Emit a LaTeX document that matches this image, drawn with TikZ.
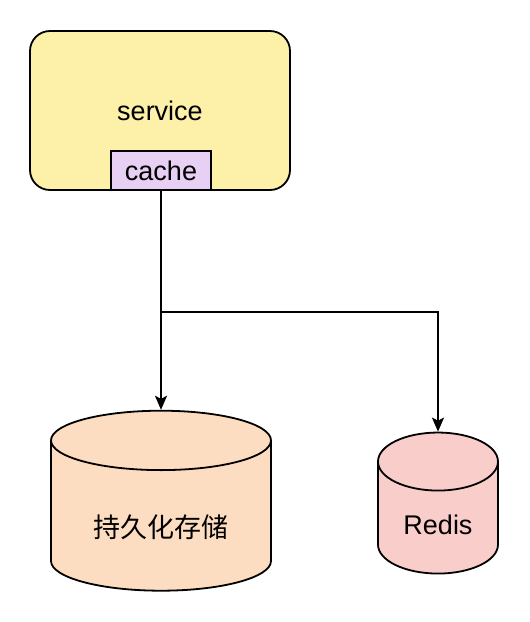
\documentclass[tikz,border=0pt]{standalone}
\usepackage{fontspec}
\setmainfont{Liberation Sans}
\newfontfamily\cjk{Noto Sans CJK SC}
\usetikzlibrary{shapes.geometric,arrows.meta}
\definecolor{serviceyellow}{HTML}{FDF0A9}
\definecolor{cachepurple}{HTML}{E8D0F4}
\definecolor{storepeach}{HTML}{FDDDC2}
\definecolor{redispink}{HTML}{F9CDCA}
\begin{document}
\begin{tikzpicture}[x=1pt, y=1pt,
  box/.style={draw=black, line width=1.8pt, inner sep=0pt, font=\fontsize{27}{32}\selectfont},
  db/.style={cylinder, shape border rotate=90, draw=black, line width=1.8pt, inner sep=0pt, font=\fontsize{27}{32}\selectfont},
  link/.style={-{Stealth[length=14pt, width=12pt, inset=3pt]}, line width=1.8pt}]
\useasboundingbox (0,0) rectangle (530,-622);
\node[box, fill=serviceyellow, rounded corners=20pt, minimum width=260pt, minimum height=159pt] (service) at (160,-110.5) {service};
\node[box, fill=cachepurple, minimum width=100pt, minimum height=39pt] (cache) at (161,-170.5) {cache};
\node[db, fill=storepeach, aspect=0.44, minimum width=220pt, minimum height=180pt,
  label={[font=\fontsize{27}{32}\selectfont\cjk, yshift=-11pt]center:持久化存储}] (store) at (161,-516) {\cjk\phantom{持久化存储}};
\node[db, fill=redispink, aspect=0.84, minimum width=120pt, minimum height=141pt,
  label={[font=\fontsize{27}{32}\selectfont, yshift=-7pt]center:Redis}] (redis) at (438,-518) {\phantom{Redis}};
\coordinate (fork) at (161,-312);
\path [link, draw=black] (cache) edge (store);
\draw [link] (fork) -| (redis);
\end{tikzpicture}
\end{document}
